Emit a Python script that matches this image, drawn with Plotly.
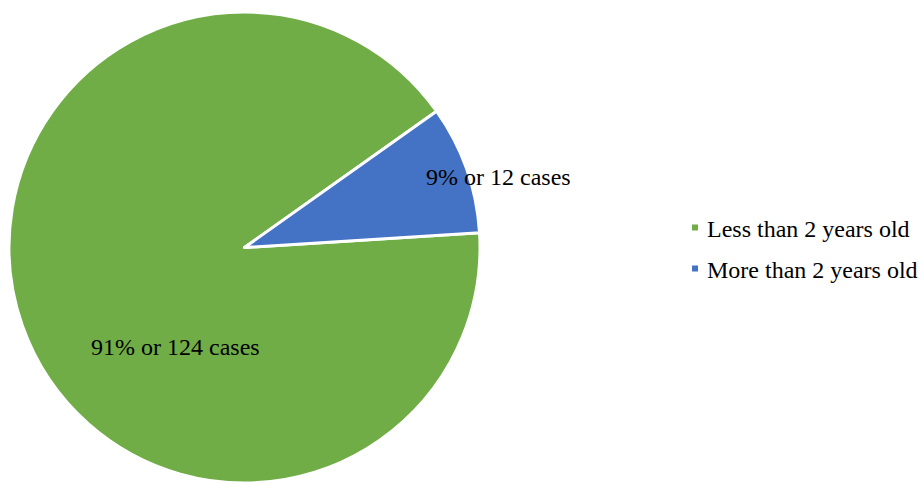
import plotly.graph_objects as go

labels = ["Less than 2 years old", "More than 2 years old"]
values = [124, 12]
percents = ["91%", "9%"]
colors = ["#70AD47", "#4472C4"]

W, H = 920, 483
rotation = 86.4
FONT = "Liberation Serif"
FS = 24

fig = go.Figure()
fig.add_trace(go.Pie(
    labels=labels,
    values=values,
    sort=False,
    direction="clockwise",
    rotation=rotation,
    marker=dict(colors=colors, line=dict(color="white", width=3)),
    textinfo="none",
    hoverinfo="label+value+percent",
    domain=dict(x=[9 / W, 480 / W], y=[0, 1 - 12 / H]),
    showlegend=False,
))

# label annotations placed in paper coords (Excel best-fit placements)
label_pos = [(175, 347), (498, 177)]
for (px, py), p, v in zip(label_pos, percents, values):
    fig.add_annotation(
        x=px / W, y=1 - py / H, xref="paper", yref="paper",
        text=f"{p} or {v} cases", showarrow=False,
        font=dict(family=FONT, size=FS, color="black"),
        xanchor="center", yanchor="middle",
    )

# manual legend (Excel-style spacing)
leg_x, leg_y0, leg_dy = 705, 229, 41
for i, (lab, col) in enumerate(zip(labels, colors)):
    yc = leg_y0 + i * leg_dy
    fig.add_shape(type="rect", xref="paper", yref="paper",
                  x0=692 / W, x1=698 / W,
                  y0=1 - (yc + 1.5) / H, y1=1 - (yc - 4.5) / H,
                  fillcolor=col, line=dict(width=0))
    fig.add_annotation(
        x=leg_x / W, y=1 - yc / H, xref="paper", yref="paper",
        text=lab, showarrow=False,
        font=dict(family=FONT, size=FS, color="black"),
        xanchor="left", yanchor="middle",
    )

fig.update_layout(
    width=W, height=H,
    margin=dict(l=0, r=0, t=0, b=0),
    paper_bgcolor="white",
    plot_bgcolor="white",
    showlegend=False,
)

fig.write_html("out.html")
